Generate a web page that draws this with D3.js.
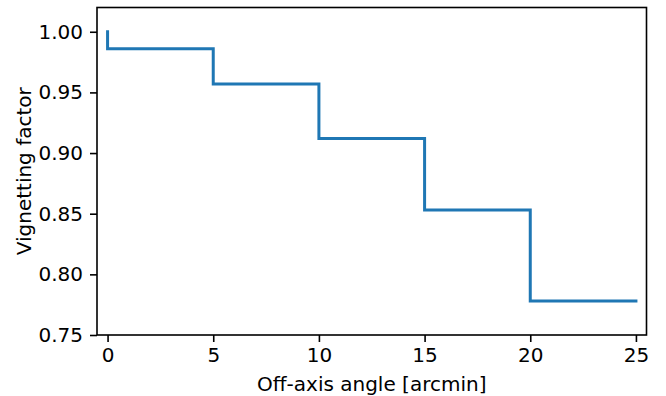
<!DOCTYPE html>
<html>
<head>
<meta charset="utf-8">
<script src="https://cdn.jsdelivr.net/npm/d3@7"></script>
<style>
 body { margin: 0; background: #fff; }
 text { font-family: "DejaVu Sans", sans-serif; }
</style>
</head>
<body>
<script>
const width = 666;
const height = 396;

// step data: off-axis angle (arcmin) vs vignetting factor
const angles = [0, 0, 5, 10, 15, 20, 25];
const vignetting = [1.0, 0.986, 0.957, 0.912, 0.853, 0.778, 0.778];

const xTicks = [0, 5, 10, 15, 20, 25];
const yTicks = [0.75, 0.80, 0.85, 0.90, 0.95, 1.00];

const plotLeft = 97, plotRight = 646.5, plotTop = 7.5, plotBottom = 335;

const svg = d3.select("body")
	.append("svg")
		.attr("width", width)
		.attr("height", height);

const x = d3.scaleLinear().domain([-0.5, 25.5]).range([plotLeft, plotRight]);
const y = d3.scaleLinear().domain([0.75, 1.02]).range([plotBottom, plotTop]);

const points = angles.map((a, i) => ({x: a, y: vignetting[i]}));

const line = d3.line()
	.x(d => x(d.x))
	.y(d => y(d.y))
	.curve(d3.curveStepAfter);

svg.append("path")
	.datum(points)
	.attr("d", line)
	.attr("fill", "none")
	.attr("stroke", "#1f77b4")
	.attr("stroke-width", 3)
	.attr("stroke-linecap", "square");

// x axis
const gx = svg.append("g")
	.attr("transform", "translate(0," + plotBottom + ")")
	.call(d3.axisBottom(x).tickValues(xTicks).tickSize(7).tickPadding(6).tickSizeOuter(0));

// y axis
const gy = svg.append("g")
	.attr("transform", "translate(" + plotLeft + ",0)")
	.call(d3.axisLeft(y).tickValues(yTicks).tickFormat(d3.format(".2f")).tickSize(7).tickPadding(7).tickSizeOuter(0));

[gx, gy].forEach(g => {
	g.select(".domain").remove();
	g.selectAll(".tick line").attr("stroke", "#000").attr("stroke-width", 1.6);
	g.selectAll(".tick text")
		.attr("fill", "#000")
		.style("font-size", "20px")
		.style("font-family", "DejaVu Sans");
});

// frame
svg.append("rect")
	.attr("x", plotLeft)
	.attr("y", plotTop)
	.attr("width", plotRight - plotLeft)
	.attr("height", plotBottom - plotTop)
	.attr("fill", "none")
	.attr("stroke", "#000")
	.attr("stroke-width", 1.6);

svg.append("text")
	.attr("x", (plotLeft + plotRight) / 2)
	.attr("y", 391)
	.attr("text-anchor", "middle")
	.style("font-size", "20px")
	.text("Off-axis angle [arcmin]");

svg.append("text")
	.attr("transform", "translate(31," + (plotTop + plotBottom) / 2 + ") rotate(-90)")
	.attr("text-anchor", "middle")
	.style("font-size", "20px")
	.text("Vignetting factor");
</script>
</body>
</html>
